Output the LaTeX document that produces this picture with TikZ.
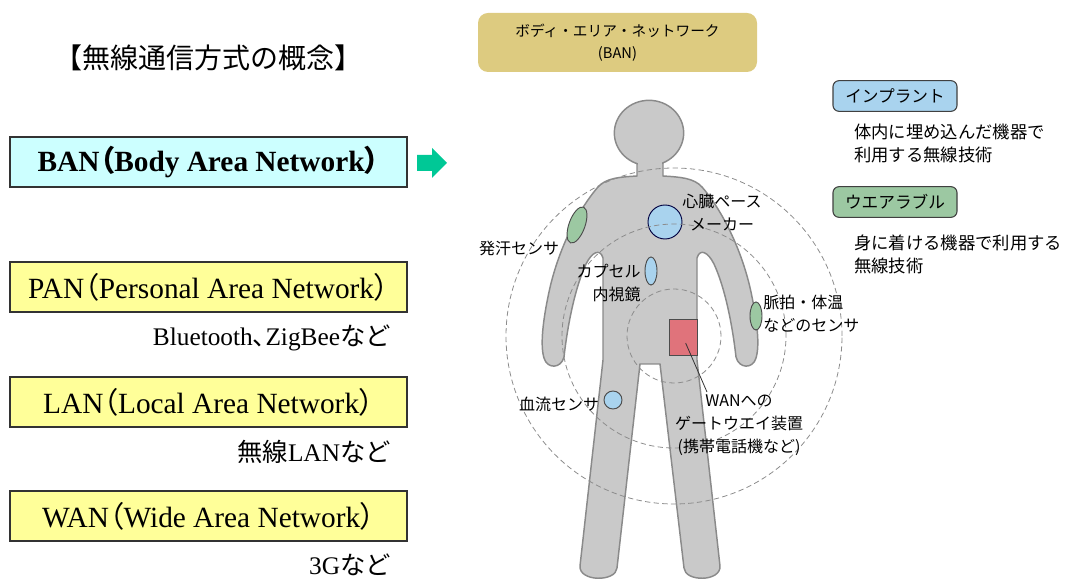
\documentclass[tikz,border=0pt]{standalone}
\usepackage{fontspec}
\usepackage{tikz}
\setmainfont{Liberation Serif}
\newfontfamily\jp{Noto Sans CJK JP}
\newfontfamily\jpp[RawFeature=+palt]{Noto Sans CJK JP}

\definecolor{bancyan}{HTML}{CCFFFF}
\definecolor{netyellow}{HTML}{FFFF99}
\definecolor{gogreen}{HTML}{00C896}
\definecolor{bangold}{HTML}{DDCB80}
\definecolor{implantblue}{HTML}{A9D3EE}
\definecolor{weargreen}{HTML}{9CC8A2}
\definecolor{bodygray}{HTML}{C9C9C9}
\definecolor{bodyline}{HTML}{8A8A8A}
\definecolor{gatered}{HTML}{E0737B}

\tikzset{
    netbox/.style={draw=black!80, line width=0.9pt, minimum width=297.75pt,
        minimum height=37.5pt, font=\fontsize{22}{24}\selectfont},
    exlabel/.style={anchor=east, inner sep=0pt, font=\fontsize{19}{22}\selectfont},
    tagbox/.style={draw=black!75, line width=0.8pt, rounded corners=4.5pt,
        minimum width=93pt, minimum height=23pt, font=\jp\fontsize{12.5}{15}\selectfont},
    desc/.style={anchor=west, align=left, inner sep=0pt,
        font=\jp\fontsize{13}{17.25}\selectfont},
    partlabel/.style={inner sep=0pt, font=\jp\fontsize{12}{17.25}\selectfont},
    sensor/.style={draw=black!70, line width=0.7pt},
    zone/.style={draw=black!45, line width=0.6pt, dash pattern=on 4pt off 2.5pt},
}

\begin{document}
\begin{tikzpicture}[x=0.75pt,y=-0.75pt]
    \useasboundingbox (0,0) rectangle (1065,580);

    \node (title) at (209,58) {\jp\fontsize{21}{24}\selectfont 【無線通信方式の概念】};

    \node[netbox, fill=bancyan, font=\bfseries\fontsize{22}{24}\selectfont] (ban) at (208.5,162)
        {BAN{\jpp （}Body Area Network{\jpp ）}};
    \node[netbox, fill=netyellow] (pan) at (208.5,287)
        {PAN{\jpp （}Personal Area Network{\jpp ）}};
    \node[netbox, fill=netyellow] (lan) at (208.5,402)
        {LAN{\jpp （}Local Area Network{\jpp ）}};
    \node[netbox, fill=netyellow] (wan) at (208.5,516)
        {WAN{\jpp （}Wide Area Network{\jpp ）}};

    \node[exlabel] (panex) at (391,338) {Bluetooth{\jpp 、}ZigBee{\jp など}};
    \node[exlabel] (lanex) at (391,452) {{\jp 無線}LAN{\jp など}};
    \node[exlabel] (wanex) at (391,565) {3G{\jp など}};

    \fill[gogreen] (417,155) -- (432,155) -- (432,148) -- (447,163)
        -- (432,178) -- (432,171) -- (417,171) -- cycle;

    \node[fill=bangold, rounded corners=7.5pt, minimum width=209.25pt, minimum height=44.25pt,
        align=center, font=\jp\fontsize{11}{16.5}\selectfont] (bantitle) at (617.5,42.5)
        {ボディ・エリア・ネットワーク\\(BAN)};

    \filldraw[fill=bodygray, draw=bodyline, line width=1.1pt]
        (637,150) -- (637,176)
        .. controls (620,177) and (606,178) .. (598,187)
        .. controls (578,210) and (558,250) .. (549,292)
        .. controls (543,320) and (540,345) .. (544,358)
        .. controls (547,369) and (561,369) .. (564,357)
        .. controls (567,330) and (574,290) .. (586,264)
        .. controls (592,252) and (600,248) .. (603,258)
        -- (603,360) -- (580,566)
        .. controls (579,582) and (616,582) .. (617,568)
        -- (640,364) -- (660,364) -- (684,568)
        .. controls (685,582) and (721,582) .. (720,566)
        -- (697,360) -- (697,258)
        .. controls (700,248) and (708,252) .. (714,264)
        .. controls (726,290) and (733,330) .. (736,357)
        .. controls (739,369) and (753,369) .. (756,358)
        .. controls (760,345) and (757,320) .. (751,292)
        .. controls (742,250) and (722,210) .. (702,187)
        .. controls (694,178) and (680,177) .. (663,176)
        -- (663,150) -- cycle;
    \filldraw[fill=bodygray, draw=bodyline, line width=1.1pt]
        (649,133) ellipse[x radius=26pt, y radius=24.5pt];
    \fill[bodygray] (638,150) rectangle (662,177);

    \draw[sensor, fill=weargreen, rotate around={-20:(577,225)}]
        (577,225) ellipse[x radius=6pt, y radius=14.25pt];
    \node[sensor, circle, fill=implantblue, minimum size=25.5pt, draw=black!75!blue] (pacer) at (665,222) {};
    \draw[sensor, fill=implantblue] (651,271) ellipse[x radius=4.5pt, y radius=10.5pt];
    \draw[sensor, fill=weargreen] (756,316) ellipse[x radius=4.5pt, y radius=10.5pt];
    \draw[sensor, fill=implantblue] (613,400) circle[radius=6.75pt];
    \node[draw=black!70, line width=0.7pt, fill=gatered, minimum width=21pt, minimum height=27pt] (gw) at (683,337) {};

    \draw[zone] (674,336) circle[radius=35.25pt];
    \draw[zone] (674,336) circle[radius=84pt];
    \draw[zone] (674,336) circle[radius=126pt];

    \coordinate (gwtip) at (707,392);
    \draw[black!80, line width=0.6pt, shorten <=5pt] (gw.center) -- (gwtip);

    \node[partlabel, align=center] (pacerlabel) at (722,213) {心臓ペース\\メーカー};
    \node[partlabel] (sweatlabel) at (519,248) {発汗センサ};
    \node[partlabel, anchor=east, align=right] (capsulelabel) at (641,283) {カプセル\\内視鏡};
    \node[partlabel, anchor=west, align=left] (pulselabel) at (763,314) {脈拍・体温\\などのセンサ};
    \node[partlabel] (bloodlabel) at (559,404) {血流センサ};
    \node[partlabel, align=center] (gwlabel) at (739,425.5) {WANへの\\ゲートウエイ装置\\(携帯電話機など)};

    \node[tagbox, fill=implantblue] (implant) at (895,96) {インプラント};
    \node[desc] (implantex) at (854,143.5) {体内に埋め込んだ機器で\\利用する無線技術};
    \node[tagbox, fill=weargreen] (wearable) at (895,202) {ウエアラブル};
    \node[desc] (wearableex) at (854,254.5) {身に着ける機器で利用する\\無線技術};
\end{tikzpicture}
\end{document}
